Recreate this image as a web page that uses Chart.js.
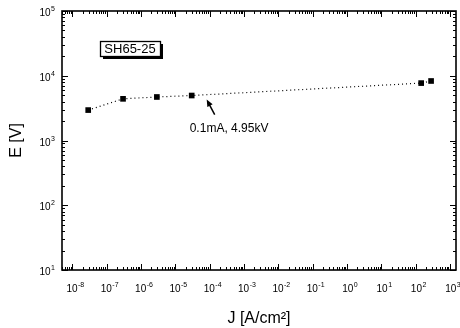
<!DOCTYPE html>
<html>
<head>
<meta charset="utf-8">
<script src="https://cdn.jsdelivr.net/npm/chart.js@4"></script>
<style>
html,body{margin:0;padding:0;background:#fff;}
#wrap{width:460px;height:328px;position:relative;}
</style>
</head>
<body>
<div id="wrap"><canvas id="c" width="460" height="328"></canvas></div>
<script>
// ---- data ----
const currentDensity = [2.9e-8, 3.0e-7, 2.9e-6, 3.0e-5, 145, 282];   // J [A/cm^2]
const fieldVoltage   = [2950, 4400, 4700, 4950, 7700, 8300];          // E [V]
const xTickExps = [-8, -7, -6, -5, -4, -3, -2, -1, 0, 1, 2, 3];
const yTickExps = [1, 2, 3, 4, 5];
const sampleLabel = 'SH65-25';
const noteText = '0.1mA, 4.95kV';
const noteIndex = 3;

const FONT = '"Liberation Sans", Arial, sans-serif';
function isDecade(v){ const l = Math.log10(v); return Math.abs(l - Math.round(l)) < 1e-6; }
function buildLogTicks(min, max){
  const out = [];
  const e0 = Math.floor(Math.log10(min)), e1 = Math.ceil(Math.log10(max));
  for (let e = e0; e <= e1; e++) {
    for (let m = 1; m <= 9; m++) {
      const v = m * Math.pow(10, e);
      if (v >= min * 0.9999 && v <= max * 1.0001) out.push({value: v, major: m === 1});
    }
  }
  return out;
}

const points = currentDensity.map((x, i) => ({x: x, y: fieldVoltage[i]}));

function drawPow(ctx, exp, x, baseline, align) {
  ctx.font = '10px ' + FONT;
  const w1 = ctx.measureText('10').width;
  ctx.font = '7px ' + FONT;
  const es = String(exp);
  const w2 = ctx.measureText(es).width;
  const total = w1 + w2 + 0.5;
  let start = align === 'right' ? x - total : x - total / 2;
  ctx.textAlign = 'left';
  ctx.textBaseline = 'alphabetic';
  ctx.font = '10px ' + FONT;
  ctx.fillText('10', start, baseline);
  ctx.font = '7px ' + FONT;
  ctx.fillText(es, start + w1 + 0.5, baseline - 5);
}

const framePlugin = {
  id: 'frameTicks',
  afterDraw(chart) {
    const {ctx, chartArea: a, scales: {x, y}} = chart;
    ctx.save();
    ctx.strokeStyle = '#000';
    ctx.fillStyle = '#000';
    ctx.lineWidth = 1;
    x.ticks.forEach(t => {
      const px = Math.round(x.getPixelForValue(t.value)) + 0.5;
      const L = isDecade(t.value) ? 6 : 3;
      ctx.beginPath();
      ctx.moveTo(px, a.bottom); ctx.lineTo(px, a.bottom - L);
      ctx.moveTo(px, a.top); ctx.lineTo(px, a.top + L);
      ctx.stroke();
    });
    y.ticks.forEach(t => {
      const py = Math.round(y.getPixelForValue(t.value)) + 0.5;
      const L = isDecade(t.value) ? 6 : 3;
      ctx.beginPath();
      ctx.moveTo(a.left, py); ctx.lineTo(a.left + L, py);
      ctx.moveTo(a.right, py); ctx.lineTo(a.right - L, py);
      ctx.stroke();
    });
    ctx.lineWidth = 1.6;
    ctx.strokeRect(a.left, a.top, a.right - a.left, a.bottom - a.top);

    // tick labels with superscript exponents
    xTickExps.forEach(e => {
      const px = x.getPixelForValue(Math.pow(10, e));
      drawPow(ctx, e, px + 3, a.bottom + 22, 'center');
    });
    yTickExps.forEach(e => {
      const py = y.getPixelForValue(Math.pow(10, e));
      drawPow(ctx, e, a.left - 7, py + 5, 'right');
    });

    // sample label box with shadow
    const bx = a.left + 38, by = a.top + 30, bw = 60, bh = 15;
    ctx.fillStyle = '#000';
    ctx.fillRect(bx + 3, by + 3, bw, bh);
    ctx.fillStyle = '#fff';
    ctx.fillRect(bx, by, bw, bh);
    ctx.lineWidth = 1.3;
    ctx.strokeRect(bx + 0.5, by + 0.5, bw, bh);
    ctx.fillStyle = '#000';
    ctx.font = '13px ' + FONT;
    ctx.textAlign = 'center';
    ctx.textBaseline = 'middle';
    ctx.fillText(sampleLabel, bx + bw / 2, by + bh / 2 + 1);

    // annotation arrow + text
    const px = x.getPixelForValue(currentDensity[noteIndex]);
    const py = y.getPixelForValue(fieldVoltage[noteIndex]);
    const tipX = px + 15, tipY = py + 4, tailX = px + 23, tailY = py + 19;
    const ang = Math.atan2(tipY - tailY, tipX - tailX);
    ctx.lineWidth = 1.5;
    ctx.beginPath();
    ctx.moveTo(tailX, tailY); ctx.lineTo(tipX - 4 * Math.cos(ang), tipY - 4 * Math.sin(ang));
    ctx.stroke();
    ctx.beginPath();
    ctx.moveTo(tipX, tipY);
    ctx.lineTo(tipX - 7 * Math.cos(ang) + 3 * Math.sin(ang), tipY - 7 * Math.sin(ang) - 3 * Math.cos(ang));
    ctx.lineTo(tipX - 7 * Math.cos(ang) - 3 * Math.sin(ang), tipY - 7 * Math.sin(ang) + 3 * Math.cos(ang));
    ctx.closePath();
    ctx.fill();
    ctx.font = '12px ' + FONT;
    ctx.textAlign = 'left';
    ctx.textBaseline = 'middle';
    ctx.fillText(noteText, px - 2, py + 33);
    ctx.restore();
  }
};

new Chart(document.getElementById('c'), {
  type: 'scatter',
  data: {
    datasets: [{
      data: points,
      showLine: true,
      borderColor: '#000',
      borderWidth: 1.2,
      borderDash: [1, 3],
      pointStyle: 'rect',
      pointRadius: 4,
      pointBackgroundColor: '#000',
      pointBorderColor: '#000',
      pointBorderWidth: 0
    }]
  },
  options: {
    responsive: false,
    animation: false,
    devicePixelRatio: 1,
    layout: {padding: {left: 0, right: 3, top: 11, bottom: 0}},
    plugins: {legend: {display: false}, tooltip: {enabled: false}},
    scales: {
      x: {
        type: 'logarithmic',
        position: 'bottom',
        min: 5e-9,
        max: 1.5e3,
        afterBuildTicks: s => { s.ticks = buildLogTicks(s.min, s.max); },
        afterFit: s => { s.height = 58; },
        grid: {display: false, drawTicks: false},
        border: {display: false},
        ticks: {display: false, autoSkip: false},
        title: {display: true, text: 'J [A/cm\u00B2]', color: '#000', font: {family: FONT, size: 16}, padding: {top: 0, bottom: 0}}
      },
      y: {
        type: 'logarithmic',
        position: 'left',
        min: 10,
        max: 1e5,
        afterBuildTicks: s => { s.ticks = buildLogTicks(s.min, s.max); },
        afterFit: s => { s.width = 62; },
        grid: {display: false, drawTicks: false},
        border: {display: false},
        ticks: {display: false, autoSkip: false},
        title: {display: true, text: 'E [V]', color: '#000', font: {family: FONT, size: 16}, padding: {top: 7, bottom: 0}}
      }
    }
  },
  plugins: [framePlugin]
});
</script>
</body>
</html>
